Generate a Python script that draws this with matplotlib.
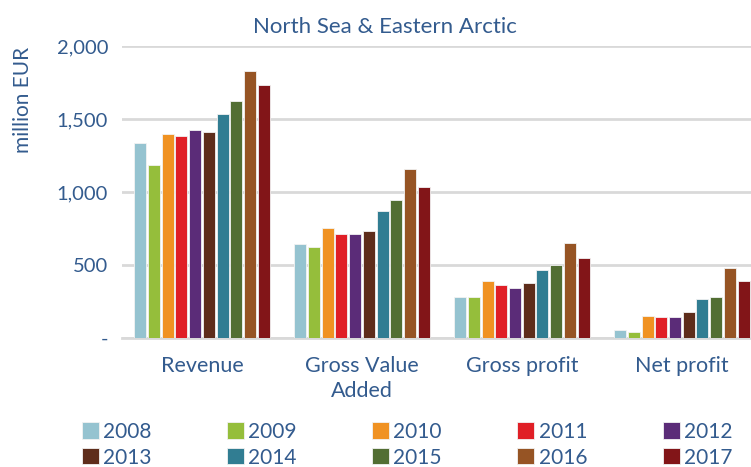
import numpy as np
import matplotlib.pyplot as plt

categories = ["Revenue", "Gross Value\nAdded", "Gross profit", "Net profit"]
years = ["2008", "2009", "2010", "2011", "2012", "2013", "2014", "2015", "2016", "2017"]
colors = ["#95C3D0", "#95BE3B", "#F09222", "#E01F26", "#5B2C78",
          "#5E2D1B", "#317D92", "#526E33", "#965424", "#821518"]

revenue = [1338, 1187, 1395, 1386, 1422, 1413, 1534, 1621, 1826, 1731]
gva = [642, 621, 753, 710, 710, 735, 868, 943, 1160, 1036]
gross_profit = [283, 283, 388, 361, 340, 379, 463, 500, 651, 546]
net_profit = [57, 39, 153, 144, 144, 180, 267, 283, 482, 388]

values = np.array([revenue, gva, gross_profit, net_profit])  # rows = categories

txt = "#335B8E"
plt.rcParams['font.family'] = ['Lato', 'DejaVu Sans']

fig = plt.figure(figsize=(7.51, 4.67), dpi=100)
ax = fig.add_axes([0.1625, 0.276, 0.852, 0.6255])

x = np.arange(len(categories))
slot = 0.0856
w = 0.075
handles = []
for i, yr in enumerate(years):
    b = ax.bar(x + (i - 4.5) * slot, values[:, i], w, color=colors[i],
               edgecolor="#f2f2f2", linewidth=0.6, label=yr, zorder=3)
    handles.append(b)

ax.set_xlim(-0.5, 3.5)
ax.set_ylim(0, 2000)
ax.set_yticks([0, 500, 1000, 1500, 2000])
ax.set_yticklabels(["-", "500", "1,000", "1,500", "2,000"])
ax.yaxis.grid(True, color="#D9D9D9", linewidth=2)
ax.set_axisbelow(True)
for s in ["top", "right", "left"]:
    ax.spines[s].set_visible(False)
ax.spines["bottom"].set_color("#D9D9D9")
ax.spines["bottom"].set_linewidth(2)
ax.tick_params(axis="y", length=0, labelsize=14.5, labelcolor=txt, pad=10)
ax.tick_params(axis="x", length=0, labelsize=15.5, labelcolor=txt, pad=13)
ax.set_xticks(x)
ax.set_xticklabels(categories, linespacing=1.3)

fig.text(0.031, 0.786, "million EUR", rotation=90, color=txt, fontsize=15,
         ha="center", va="center")
fig.text(0.513, 0.943, "North Sea & Eastern Arctic", color=txt, fontsize=16,
         ha="center", va="center")

# legend fills column-wise, so interleave to get 2008-2012 on the first row
order = []
for c in range(5):
    order += [c, c + 5]
leg = fig.legend([handles[k] for k in order], [years[k] for k in order],
                 ncol=5, loc="center left", bbox_to_anchor=(0.109, 0.048),
                 frameon=False, fontsize=15, handlelength=0.82, handleheight=0.82,
                 handletextpad=0.2, columnspacing=3.62, labelspacing=0.28,
                 borderaxespad=0, borderpad=0)
for t in leg.get_texts():
    t.set_color(txt)

fig.savefig("out.png", dpi=100)
